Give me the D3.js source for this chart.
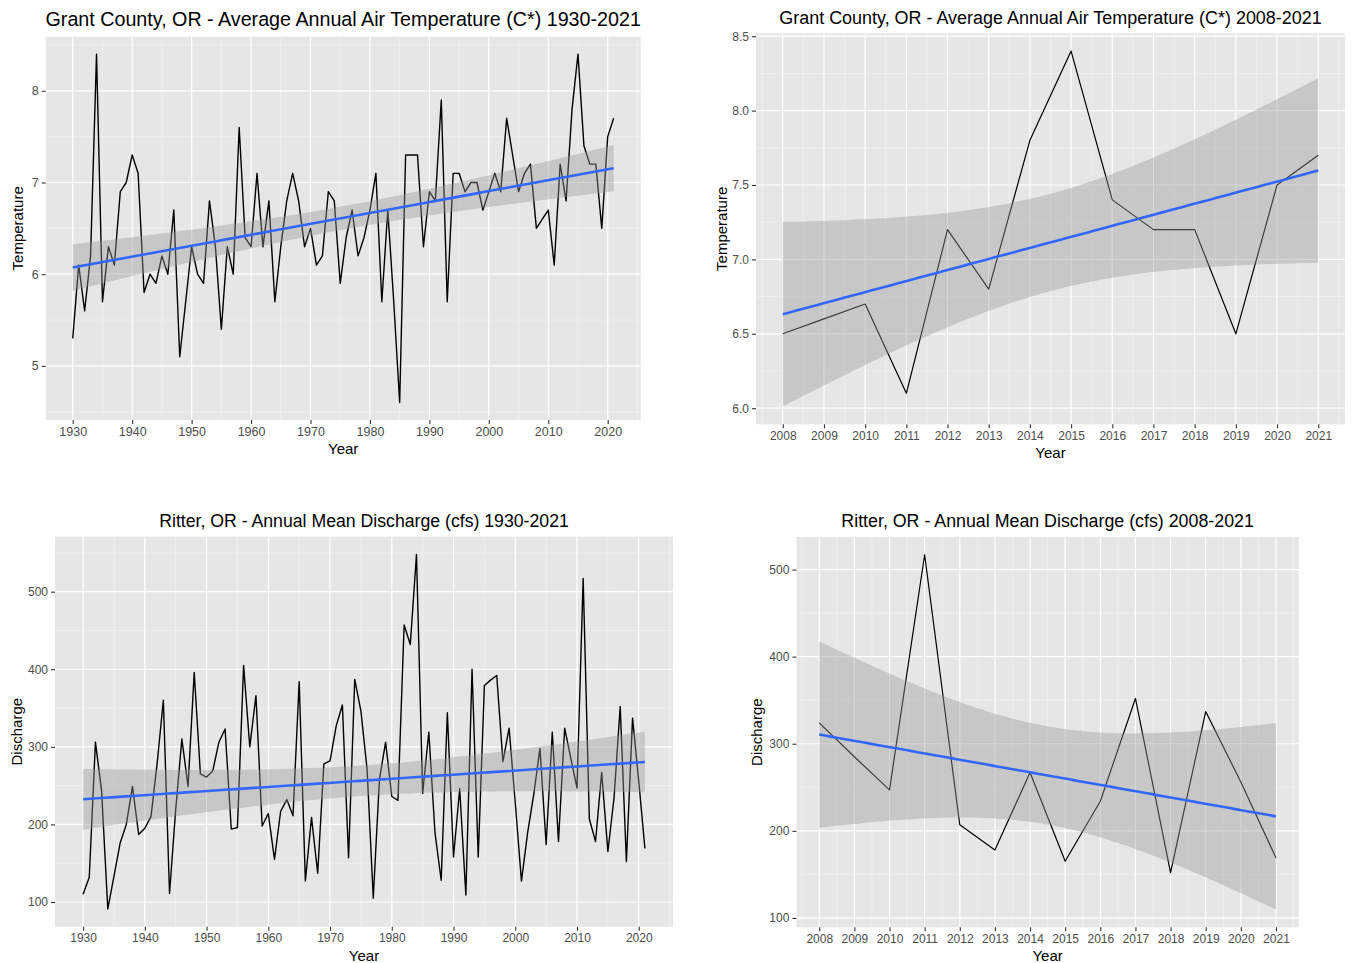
<!DOCTYPE html>
<html>
<head>
<meta charset="utf-8">
<title>Grant County temperature and Ritter discharge</title>
<script src="https://cdn.jsdelivr.net/npm/d3@7"></script>
<style>
  body { margin: 0; background: #fff; }
  svg text { font-family: "Liberation Sans", Arial, sans-serif; }
  .tick-label { fill: #4d4d4d; }
</style>
</head>
<body>
<svg id="chart" width="1351" height="963"></svg>
<script>
// years 1930-2021
var yearsLong = [1930,1931,1932,1933,1934,1935,1936,1937,1938,1939,
  1940,1941,1942,1943,1944,1945,1946,1947,1948,1949,
  1950,1951,1952,1953,1954,1955,1956,1957,1958,1959,
  1960,1961,1962,1963,1964,1965,1966,1967,1968,1969,
  1970,1971,1972,1973,1974,1975,1976,1977,1978,1979,
  1980,1981,1982,1983,1984,1985,1986,1987,1988,1989,
  1990,1991,1992,1993,1994,1995,1996,1997,1998,1999,
  2000,2001,2002,2003,2004,2005,2006,2007,2008,2009,
  2010,2011,2012,2013,2014,2015,2016,2017,2018,2019,
  2020,2021];

// average annual air temperature, Grant County (C)
var tempLong = [5.3,6.1,5.6,6.2,8.4,5.7,6.3,6.1,6.9,7.0,
  7.3,7.1,5.8,6.0,5.9,6.2,6.0,6.7,5.1,5.7,
  6.3,6.0,5.9,6.8,6.3,5.4,6.3,6.0,7.6,6.4,
  6.3,7.1,6.3,6.8,5.7,6.3,6.8,7.1,6.8,6.3,
  6.5,6.1,6.2,6.9,6.8,5.9,6.4,6.7,6.2,6.4,
  6.7,7.1,5.7,6.7,5.7,4.6,7.3,7.3,7.3,6.3,
  6.9,6.8,7.9,5.7,7.1,7.1,6.9,7.0,7.0,6.7,
  6.9,7.1,6.9,7.7,7.3,6.9,7.1,7.2,6.5,6.6,
  6.7,6.1,7.2,6.8,7.8,8.4,7.4,7.2,7.2,6.5,
  7.5,7.7];

// annual mean discharge at Ritter (cfs)
var flowLong = [110,132,306,243,91,133,176,200,249,187,
  195,210,279,360,111,219,310,249,396,265,
  261,269,306,323,194,196,405,300,366,198,
  214,155,217,232,211,384,127,209,137,278,
  282,327,354,157,387,346,271,105,258,306,
  236,231,457,432,548,240,319,189,128,344,
  158,246,109,400,158,379,386,392,281,324,
  228,127,189,239,298,174,319,178,324,285,
  247,517,207,178,267,165,234,352,152,337,
  256,169];

var yearsShort = [2008,2009,2010,2011,2012,2013,2014,2015,2016,2017,2018,2019,2020,2021];
var tempShort = [6.5,6.6,6.7,6.1,7.2,6.8,7.8,8.4,7.4,7.2,7.2,6.5,7.5,7.7];
var flowShort = [324,285,247,517,207,178,267,165,234,352,152,337,256,169];

// tick labels
var decadeTicks = [1930,1940,1950,1960,1970,1980,1990,2000,2010,2020];
var tempTicksLong = [5,6,7,8];
var tempTicksShort = [6.0,6.5,7.0,7.5,8.0,8.5];
var flowTicks = [100,200,300,400,500];

var svg = d3.select("#chart");

// lm fit with 95% confidence band, like geom_smooth(method = "lm")
function lmBand(xs, ys, tval) {
  var n = xs.length;
  var mx = d3.mean(xs), my = d3.mean(ys);
  var sxx = d3.sum(xs, function(x) { return (x - mx) * (x - mx); });
  var sxy = d3.sum(xs, function(x, i) { return (x - mx) * (ys[i] - my); });
  var b = sxy / sxx, a = my - b * mx;
  var rss = d3.sum(xs, function(x, i) { var r = ys[i] - (a + b * x); return r * r; });
  var s = Math.sqrt(rss / (n - 2));
  var x0 = d3.min(xs), x1 = d3.max(xs);
  var pts = [];
  for (var k = 0; k < 80; k++) {
    var x = x0 + (x1 - x0) * k / 79;
    var fit = a + b * x;
    var se = s * Math.sqrt(1 / n + (x - mx) * (x - mx) / sxx);
    pts.push({x: x, y: fit, lo: fit - tval * se, hi: fit + tval * se});
  }
  return pts;
}

function minorsOf(ticks, domain) {
  var step = ticks[1] - ticks[0];
  var out = [];
  for (var v = ticks[0] - step / 2; v <= domain[1]; v += step) {
    if (v >= domain[0]) out.push(v);
  }
  return out;
}

function drawPanel(p) {
  var g = svg.append("g");
  var band = lmBand(p.xs, p.ys, p.t);

  var xr = d3.extent(p.xs), xpad = (xr[1] - xr[0]) * 0.05;
  var ylo = Math.min(d3.min(p.ys), d3.min(band, function(d) { return d.lo; }));
  var yhi = Math.max(d3.max(p.ys), d3.max(band, function(d) { return d.hi; }));
  var ypad = (yhi - ylo) * 0.05;

  var x = d3.scaleLinear().domain([xr[0] - xpad, xr[1] + xpad]).range([p.left, p.right]);
  var y = d3.scaleLinear().domain([ylo - ypad, yhi + ypad]).range([p.bottom, p.top]);

  g.append("rect")
    .attr("x", p.left).attr("y", p.top)
    .attr("width", p.right - p.left).attr("height", p.bottom - p.top)
    .attr("fill", "#e6e6e6");

  // minor grid
  var xMinor = minorsOf(p.xTicks, x.domain());
  var yMinor = minorsOf(p.yTicks, y.domain());
  g.selectAll(".xminor").data(xMinor).enter().append("line")
    .attr("x1", function(d) { return x(d); }).attr("x2", function(d) { return x(d); })
    .attr("y1", p.top).attr("y2", p.bottom)
    .attr("stroke", "#f4f4f4").attr("stroke-width", 0.6);
  g.selectAll(".yminor").data(yMinor).enter().append("line")
    .attr("y1", function(d) { return y(d); }).attr("y2", function(d) { return y(d); })
    .attr("x1", p.left).attr("x2", p.right)
    .attr("stroke", "#f4f4f4").attr("stroke-width", 0.6);

  // major grid
  g.selectAll(".xmajor").data(p.xTicks).enter().append("line")
    .attr("x1", function(d) { return x(d); }).attr("x2", function(d) { return x(d); })
    .attr("y1", p.top).attr("y2", p.bottom)
    .attr("stroke", "#fff").attr("stroke-width", 1.2);
  g.selectAll(".ymajor").data(p.yTicks).enter().append("line")
    .attr("y1", function(d) { return y(d); }).attr("y2", function(d) { return y(d); })
    .attr("x1", p.left).attr("x2", p.right)
    .attr("stroke", "#fff").attr("stroke-width", 1.2);

  // data line
  var line = d3.line()
    .x(function(d, i) { return x(p.xs[i]); })
    .y(function(d) { return y(d); });
  g.append("path").datum(p.ys)
    .attr("d", line)
    .attr("fill", "none").attr("stroke", "#000").attr("stroke-width", p.lineWidth)
    .attr("stroke-linejoin", "round");

  // confidence ribbon and fit
  var area = d3.area()
    .x(function(d) { return x(d.x); })
    .y0(function(d) { return y(d.lo); })
    .y1(function(d) { return y(d.hi); });
  g.append("path").datum(band)
    .attr("d", area)
    .attr("fill", "#999999").attr("fill-opacity", 0.4);
  var fitLine = d3.line()
    .x(function(d) { return x(d.x); })
    .y(function(d) { return y(d.y); });
  g.append("path").datum(band)
    .attr("d", fitLine)
    .attr("fill", "none").attr("stroke", "#3366ff").attr("stroke-width", 2.6);

  // axes
  var xAxis = g.append("g").attr("transform", "translate(0," + p.bottom + ")")
    .call(d3.axisBottom(x).tickValues(p.xTicks).tickSize(4).tickPadding(3).tickFormat(d3.format("d")));
  var yAxis = g.append("g").attr("transform", "translate(" + p.left + ",0)")
    .call(d3.axisLeft(y).tickValues(p.yTicks).tickSize(4).tickPadding(3).tickFormat(p.yFormat));
  [xAxis, yAxis].forEach(function(ax) {
    ax.select(".domain").remove();
    ax.selectAll(".tick line").attr("stroke", "#333").attr("stroke-width", 1.1);
    ax.selectAll(".tick text")
      .attr("class", "tick-label")
      .style("font-family", "'Liberation Sans', Arial, sans-serif")
      .style("font-size", p.tickSize + "px");
  });

  // titles
  var title = g.append("text")
    .attr("x", (p.left + p.right) / 2).attr("y", p.titleY)
    .attr("text-anchor", "middle").attr("fill", "#000")
    .style("font-size", p.titleSize + "px")
    .text(p.title);
  var w = title.node().getComputedTextLength();
  title.style("font-size", (p.titleSize * p.titleWidth / w) + "px");

  g.append("text")
    .attr("x", (p.left + p.right) / 2).attr("y", p.bottom + 34)
    .attr("text-anchor", "middle").attr("fill", "#000")
    .style("font-size", "15px")
    .text("Year");

  g.append("text")
    .attr("transform", "translate(" + p.yTitleX + "," + ((p.top + p.bottom) / 2) + ") rotate(-90)")
    .attr("text-anchor", "middle").attr("fill", "#000")
    .style("font-size", "15px")
    .text(p.yTitle);
}

var intFmt = d3.format("d");

drawPanel({
  xs: yearsLong, ys: tempLong, t: 1.9867, lineWidth: 1.4,
  left: 45.7, right: 640.7, top: 36.7, bottom: 420,
  xTicks: decadeTicks, yTicks: tempTicksLong, yFormat: intFmt,
  title: "Grant County, OR - Average Annual Air Temperature (C*) 1930-2021",
  titleY: 25.5, titleSize: 18, titleWidth: 596,
  yTitle: "Temperature", yTitleX: 23, tickSize: 12.5
});

drawPanel({
  xs: yearsShort, ys: tempShort, t: 2.1788, lineWidth: 1.2,
  left: 756, right: 1345, top: 33.3, bottom: 424.3,
  xTicks: yearsShort, yTicks: tempTicksShort, yFormat: d3.format(".1f"),
  title: "Grant County, OR - Average Annual Air Temperature (C*) 2008-2021",
  titleY: 24, titleSize: 16, titleWidth: 543,
  yTitle: "Temperature", yTitleX: 727, tickSize: 12
});

drawPanel({
  xs: yearsLong, ys: flowLong, t: 1.9867, lineWidth: 1.4,
  left: 55, right: 673, top: 536.7, bottom: 926.7,
  xTicks: decadeTicks, yTicks: flowTicks, yFormat: intFmt,
  title: "Ritter, OR - Annual Mean Discharge (cfs) 1930-2021",
  titleY: 526.5, titleSize: 16.5, titleWidth: 410,
  yTitle: "Discharge", yTitleX: 22, tickSize: 12
});

drawPanel({
  xs: yearsShort, ys: flowShort, t: 2.1788, lineWidth: 1.2,
  left: 796.4, right: 1298.8, top: 537, bottom: 927.3,
  xTicks: yearsShort, yTicks: flowTicks, yFormat: intFmt,
  title: "Ritter, OR - Annual Mean Discharge (cfs) 2008-2021",
  titleY: 526.5, titleSize: 16.5, titleWidth: 413,
  yTitle: "Discharge", yTitleX: 762, tickSize: 12
});
</script>
</body>
</html>
